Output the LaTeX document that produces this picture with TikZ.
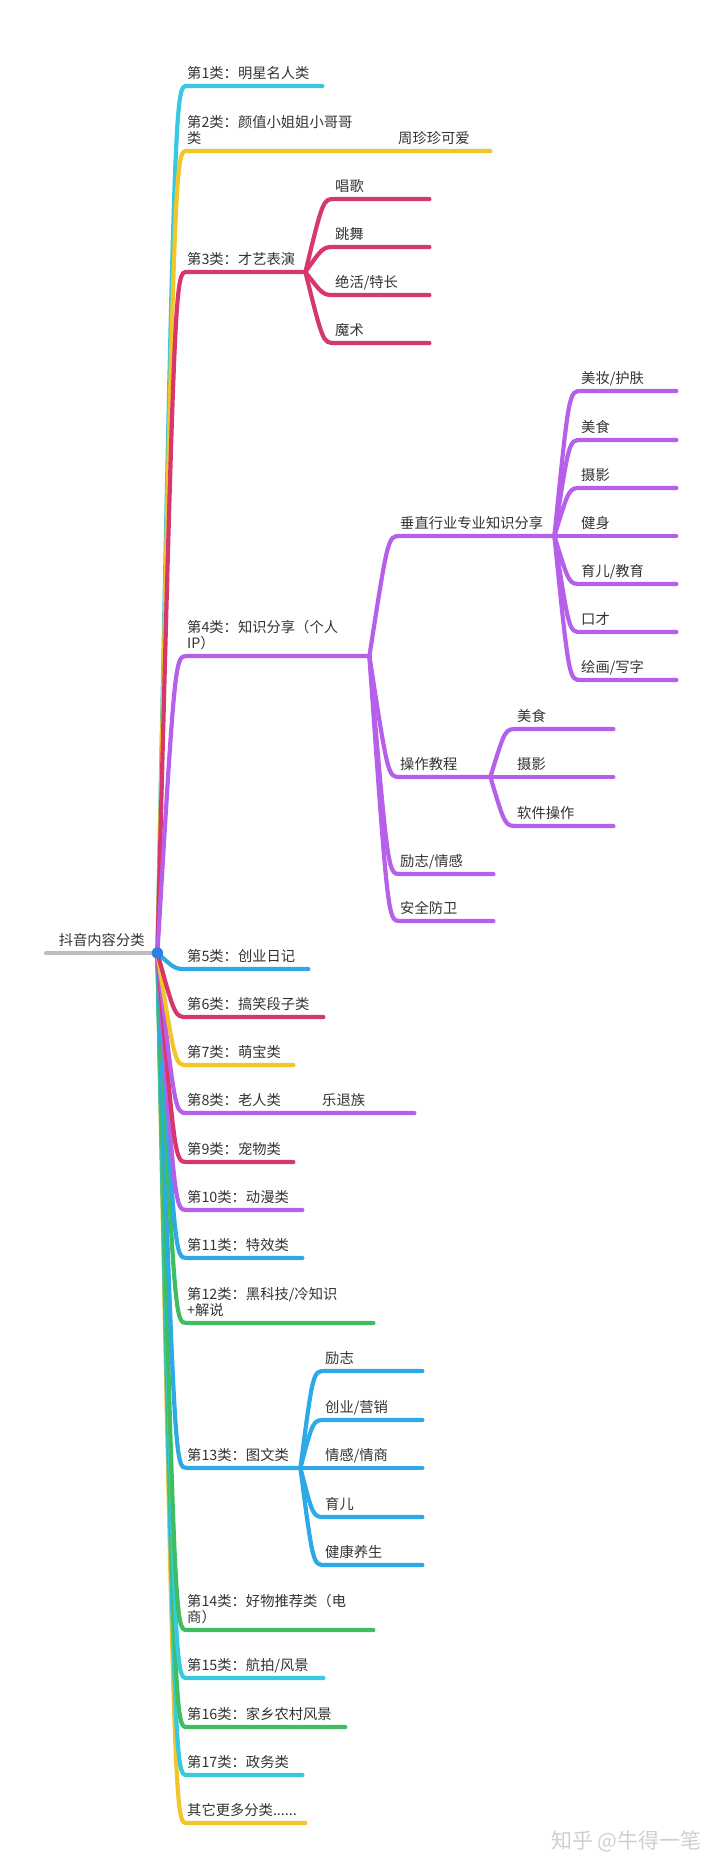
\documentclass[tikz,border=0pt]{standalone}
\usepackage{fontspec}
\newfontfamily\cjk{Noto Sans CJK SC}
\usepackage{tikz}
\usetikzlibrary{calc}

\definecolor{cyanb}{HTML}{38C8DF}
\definecolor{blueb}{HTML}{2DA9E6}
\definecolor{redb}{HTML}{D6386B}
\definecolor{yellowb}{HTML}{F2C62B}
\definecolor{purpleb}{HTML}{B55FEA}
\definecolor{greenb}{HTML}{3EBE5E}
\definecolor{rootgray}{HTML}{BDBDBD}
\definecolor{rootdot}{HTML}{2F7EE6}
\definecolor{ink}{HTML}{333333}
\definecolor{wmgray}{HTML}{CFCFCF}

\newcommand{\dn}{\rule[-3pt]{0pt}{3pt}}

\begin{document}
\begin{tikzpicture}[x=1pt, y=-1pt,
  topic/.style={anchor=south west, inner xsep=0pt, inner ysep=4.6pt, align=left, text=ink,
    font=\cjk\fontsize{14.3}{16}\selectfont, execute at end node=\dn},
  limb/.style={line width=4.2pt, line cap=round,
    to path={.. controls ([xshift=-12pt]\tikztotarget) and ([xshift=-12pt]\tikztotarget) .. (\tikztotarget)}}]

\useasboundingbox (0,0) rectangle (720,1869);

% root
\node[topic, text width=111pt, align=center] (root) at (46,953) {抖音内容分类};

% main categories
\node[topic, text width=135pt] (c1) at (187,86) {第1类：明星名人类};
\node[topic, text width=179pt] (c2) at (187,151) {第2类：颜值小姐姐小哥哥\\类};
\node[topic, text width=92pt] (c2a) at (398,151) {周珍珍可爱};
\node[topic, text width=118pt] (c3) at (187,272) {第3类：才艺表演};
\node[topic, text width=94pt] (c3a) at (335,199) {唱歌};
\node[topic, text width=94pt] (c3b) at (335,247) {跳舞};
\node[topic, text width=94pt] (c3c) at (335,295) {绝活/特长};
\node[topic, text width=94pt] (c3d) at (335,343) {魔术};

\node[topic, text width=182pt] (c4) at (187,656) {第4类：知识分享（个人\\IP）};
\node[topic, text width=154pt] (c4a) at (400,536) {垂直行业专业知识分享};
\node[topic, text width=95pt] (c4a1) at (581,391) {美妆/护肤};
\node[topic, text width=95pt] (c4a2) at (581,440) {美食};
\node[topic, text width=95pt] (c4a3) at (581,488) {摄影};
\node[topic, text width=95pt] (c4a4) at (581,536) {健身};
\node[topic, text width=95pt] (c4a5) at (581,584) {育儿/教育};
\node[topic, text width=95pt] (c4a6) at (581,632) {口才};
\node[topic, text width=95pt] (c4a7) at (581,680) {绘画/写字};
\node[topic, text width=90pt] (c4b) at (400,777) {操作教程};
\node[topic, text width=96pt] (c4b1) at (517,729) {美食};
\node[topic, text width=96pt] (c4b2) at (517,777) {摄影};
\node[topic, text width=96pt] (c4b3) at (517,826) {软件操作};
\node[topic, text width=93pt] (c4c) at (400,874) {励志/情感};
\node[topic, text width=93pt] (c4d) at (400,921) {安全防卫};

\node[topic, text width=121pt] (c5) at (187,969) {第5类：创业日记};
\node[topic, text width=136pt] (c6) at (187,1017) {第6类：搞笑段子类};
\node[topic, text width=106pt] (c7) at (187,1065) {第7类：萌宝类};
\node[topic, text width=107pt] (c8) at (187,1113) {第8类：老人类};
\node[topic, text width=92pt] (c8a) at (322,1113) {乐退族};
\node[topic, text width=106pt] (c9) at (187,1162) {第9类：宠物类};
\node[topic, text width=115pt] (c10) at (187,1210) {第10类：动漫类};
\node[topic, text width=115pt] (c11) at (187,1258) {第11类：特效类};
\node[topic, text width=186pt] (c12) at (187,1323) {第12类：黑科技/冷知识\\+解说};

\node[topic, text width=113pt] (c13) at (187,1468) {第13类：图文类};
\node[topic, text width=97pt] (c13a) at (325,1371) {励志};
\node[topic, text width=97pt] (c13b) at (325,1420) {创业/营销};
\node[topic, text width=97pt] (c13c) at (325,1468) {情感/情商};
\node[topic, text width=97pt] (c13d) at (325,1517) {育儿};
\node[topic, text width=97pt] (c13e) at (325,1565) {健康养生};

\node[topic, text width=186pt] (c14) at (187,1630) {第14类：好物推荐类（电\\商）};
\node[topic, text width=136pt] (c15) at (187,1678) {第15类：航拍/风景};
\node[topic, text width=158pt] (c16) at (187,1727) {第16类：家乡农村风景};
\node[topic, text width=115pt] (c17) at (187,1775) {第17类：政务类};
\node[topic, text width=118pt] (c18) at (187,1823) {其它更多分类......};

% branches from the root
\draw[limb, cyanb] (root.south east) to (c1.south west) -- (c1.south east);
\draw[limb, yellowb] (root.south east) to (c2.south west) -- (c2.south east) -- (c2a.south west) -- (c2a.south east);
\draw[limb, redb] (root.south east) to (c3.south west) -- (c3.south east);
\draw[limb, purpleb] (root.south east) to (c4.south west) -- (c4.south east);
\draw[limb, yellowb] (root.south east) to (c18.south west) -- (c18.south east);
\draw[limb, cyanb] (root.south east) to (c17.south west) -- (c17.south east);
\draw[limb, greenb] (root.south east) to (c16.south west) -- (c16.south east);
\draw[limb, cyanb] (root.south east) to (c15.south west) -- (c15.south east);
\draw[limb, greenb] (root.south east) to (c14.south west) -- (c14.south east);
\draw[limb, blueb] (root.south east) to (c13.south west) -- (c13.south east);
\draw[limb, greenb] (root.south east) to (c12.south west) -- (c12.south east);
\draw[limb, blueb] (root.south east) to (c11.south west) -- (c11.south east);
\draw[limb, purpleb] (root.south east) to (c10.south west) -- (c10.south east);
\draw[limb, redb] (root.south east) to (c9.south west) -- (c9.south east);
\draw[limb, purpleb] (root.south east) to (c8.south west) -- (c8.south east) -- (c8a.south west) -- (c8a.south east);
\draw[limb, yellowb] (root.south east) to (c7.south west) -- (c7.south east);
\draw[limb, redb] (root.south east) to (c6.south west) -- (c6.south east);
\draw[limb, blueb] (root.south east) to (c5.south west) -- (c5.south east);

% second level
\draw[limb, redb] (c3.south east) to (c3a.south west) -- (c3a.south east);
\draw[limb, redb] (c3.south east) to (c3b.south west) -- (c3b.south east);
\draw[limb, redb] (c3.south east) to (c3c.south west) -- (c3c.south east);
\draw[limb, redb] (c3.south east) to (c3d.south west) -- (c3d.south east);

\draw[limb, purpleb] (c4.south east) to (c4a.south west) -- (c4a.south east);
\draw[limb, purpleb] (c4.south east) to (c4b.south west) -- (c4b.south east);
\draw[limb, purpleb] (c4.south east) to (c4c.south west) -- (c4c.south east);
\draw[limb, purpleb] (c4.south east) to (c4d.south west) -- (c4d.south east);

\draw[limb, blueb] (c13.south east) to (c13a.south west) -- (c13a.south east);
\draw[limb, blueb] (c13.south east) to (c13b.south west) -- (c13b.south east);
\draw[limb, blueb] (c13.south east) to (c13c.south west) -- (c13c.south east);
\draw[limb, blueb] (c13.south east) to (c13d.south west) -- (c13d.south east);
\draw[limb, blueb] (c13.south east) to (c13e.south west) -- (c13e.south east);

% third level
\draw[limb, purpleb] (c4a.south east) to (c4a1.south west) -- (c4a1.south east);
\draw[limb, purpleb] (c4a.south east) to (c4a2.south west) -- (c4a2.south east);
\draw[limb, purpleb] (c4a.south east) to (c4a3.south west) -- (c4a3.south east);
\draw[limb, purpleb] (c4a.south east) to (c4a4.south west) -- (c4a4.south east);
\draw[limb, purpleb] (c4a.south east) to (c4a5.south west) -- (c4a5.south east);
\draw[limb, purpleb] (c4a.south east) to (c4a6.south west) -- (c4a6.south east);
\draw[limb, purpleb] (c4a.south east) to (c4a7.south west) -- (c4a7.south east);

\draw[limb, purpleb] (c4b.south east) to (c4b1.south west) -- (c4b1.south east);
\draw[limb, purpleb] (c4b.south east) to (c4b2.south west) -- (c4b2.south east);
\draw[limb, purpleb] (c4b.south east) to (c4b3.south west) -- (c4b3.south east);

% root line and dot
\draw[line width=4.2pt, line cap=round, rootgray] (root.south west) -- (root.south east);
\fill[rootdot] (root.south east) circle (5.7);

\node[anchor=west, inner sep=0pt, text=wmgray, font=\cjk\fontsize{21}{24}\selectfont] (wm) at (551,1841) {知乎 @牛得一笔};

\end{tikzpicture}
\end{document}
